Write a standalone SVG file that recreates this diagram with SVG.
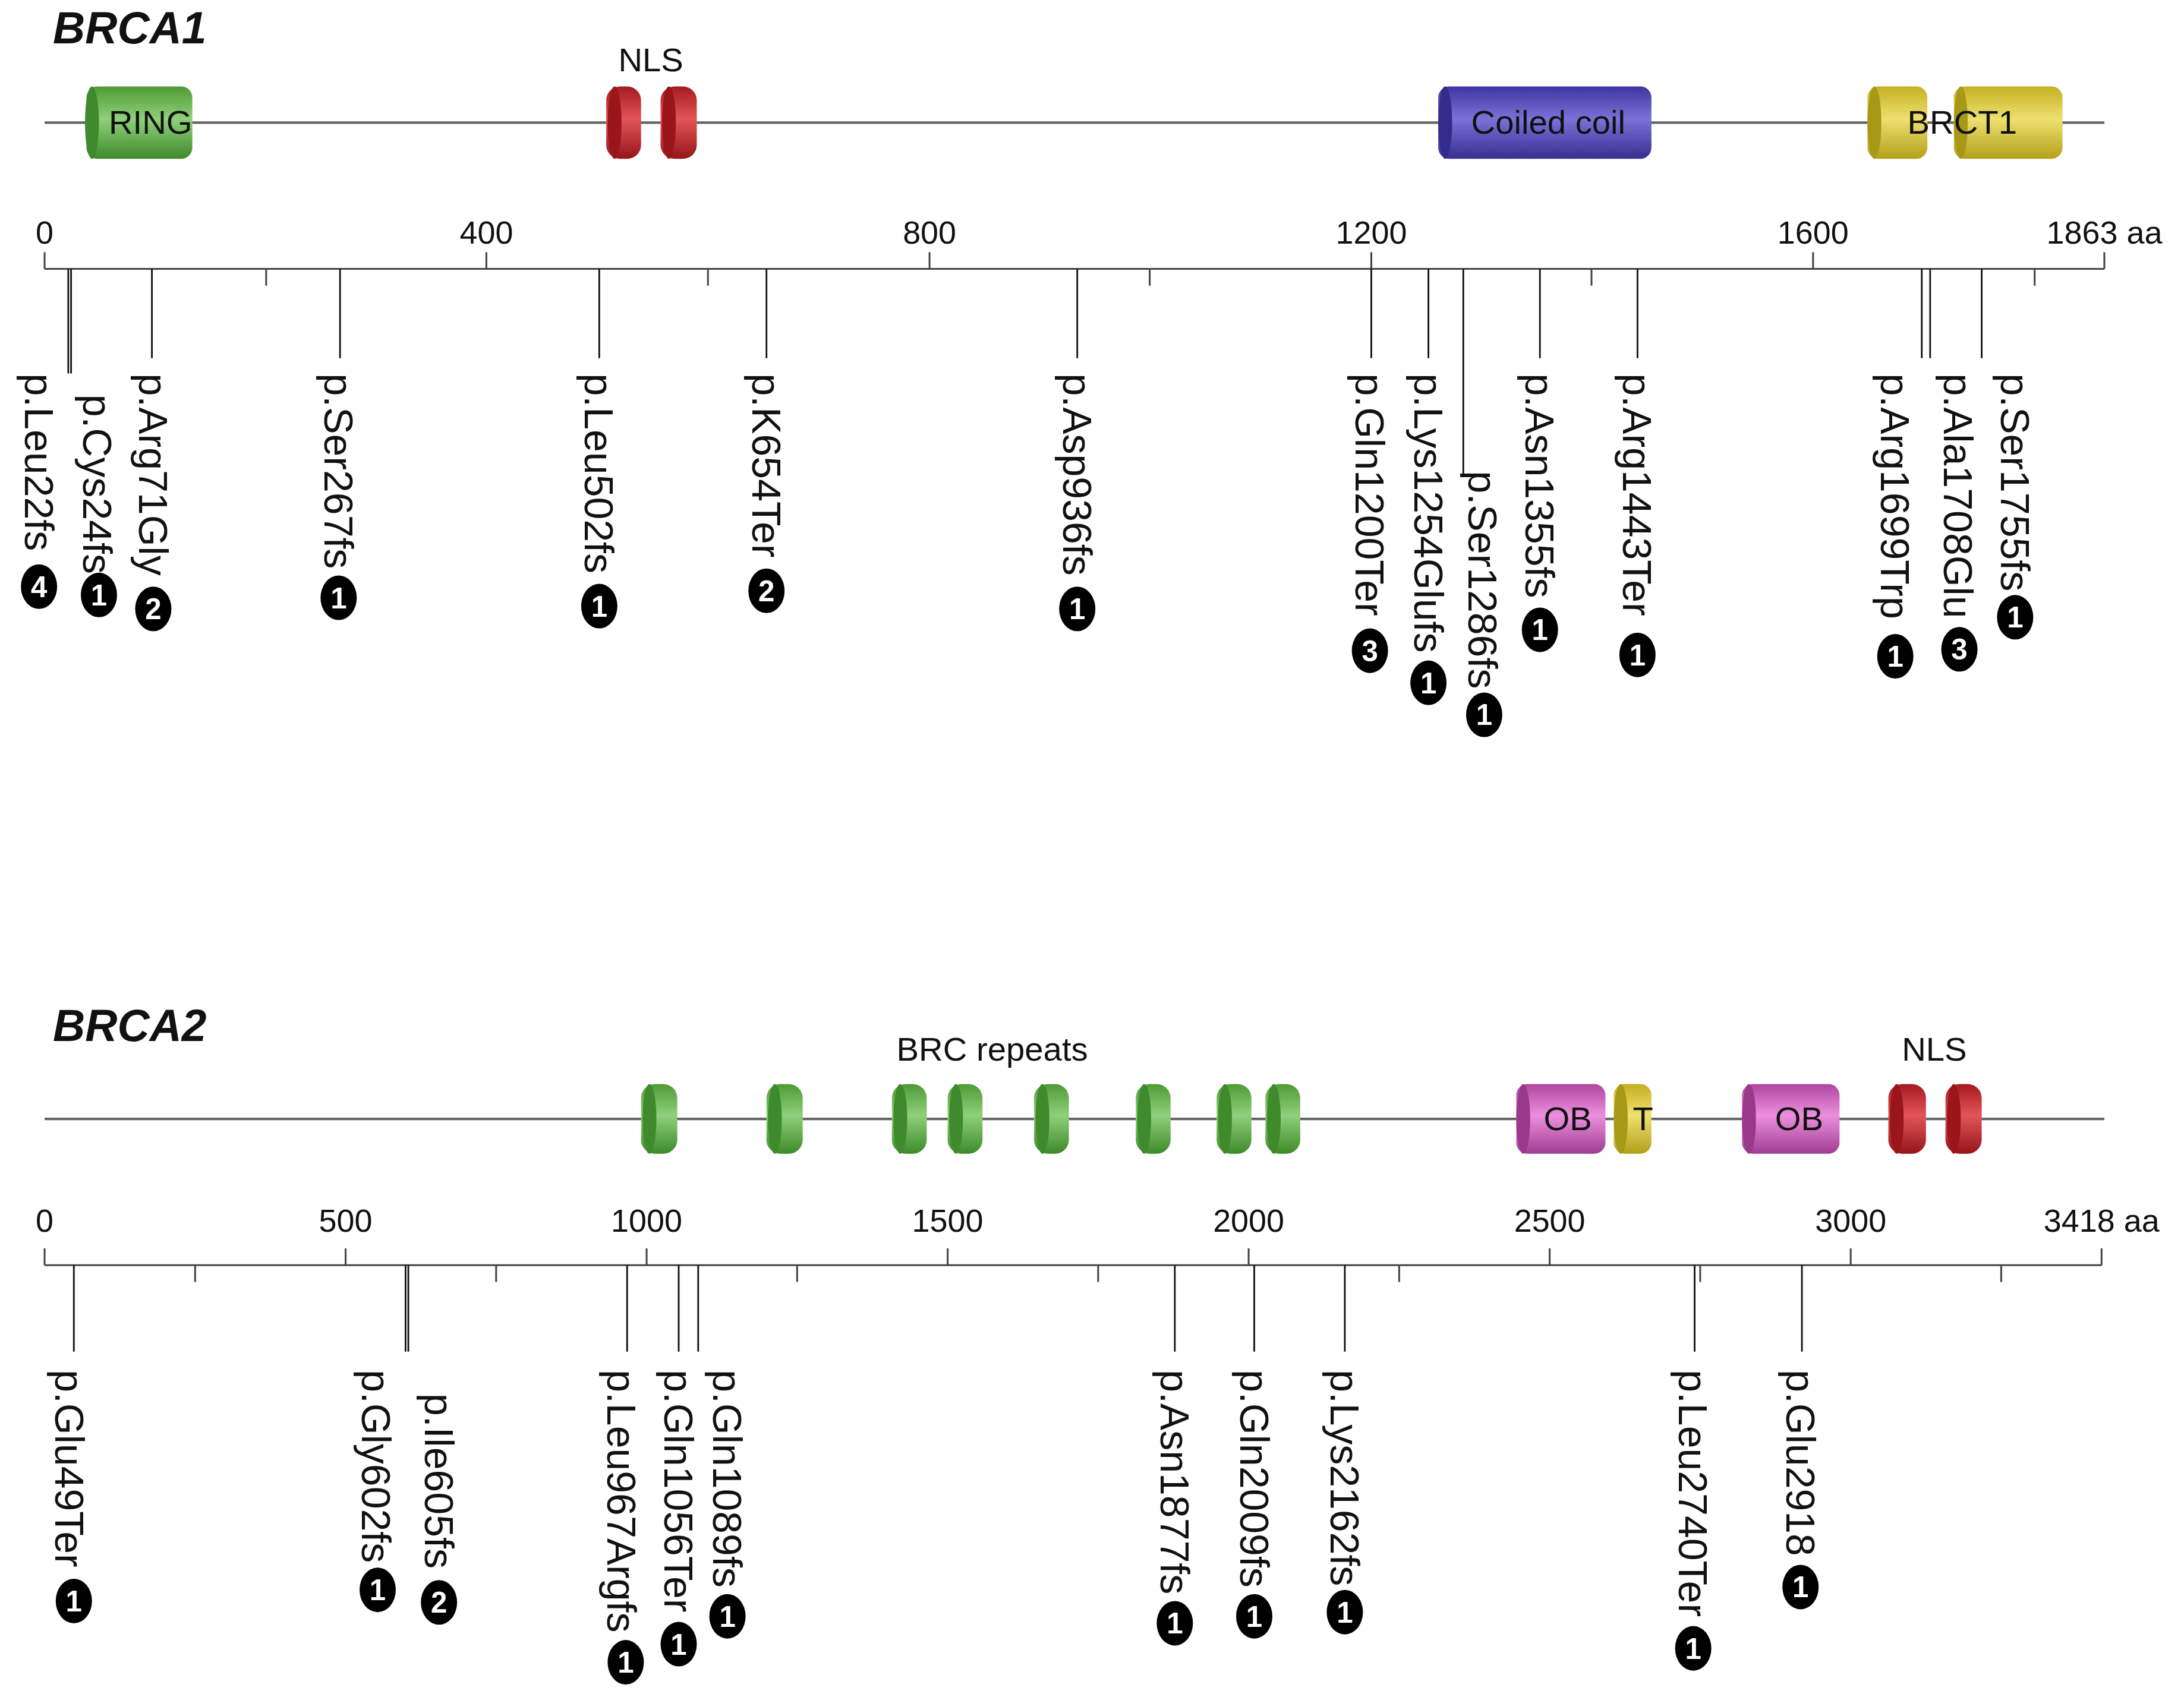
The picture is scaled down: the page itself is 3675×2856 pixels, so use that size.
<svg xmlns="http://www.w3.org/2000/svg" width="3675" height="2856" viewBox="0 0 3675 2856">
<style>
.t{font-family:"Liberation Sans",Arial,sans-serif;fill:#111}
.title{font-weight:bold;font-style:italic;font-size:32px}
.dl{font-size:24px;text-anchor:middle}
.tk{font-size:23px;text-anchor:middle}
.ml{font-size:29px;dominant-baseline:central}
.ax{stroke:#444;stroke-width:1.3;fill:none}
.pl{stroke:#666;stroke-width:1.8;fill:none}
.ml2{stroke:#111;stroke-width:1.2;fill:none}
.bd{fill:#000}
.bn{font-family:"Liberation Sans",Arial,sans-serif;font-weight:bold;font-size:21px;fill:#fff;text-anchor:middle;dominant-baseline:central}
</style>
<defs>
<linearGradient id="gG" x1="0" y1="0" x2="0" y2="1"><stop offset="0" stop-color="#4f9a35"/><stop offset="0.45" stop-color="#8fd07a"/><stop offset="1" stop-color="#3d8a2a"/></linearGradient>
<linearGradient id="gR" x1="0" y1="0" x2="0" y2="1"><stop offset="0" stop-color="#a51a1e"/><stop offset="0.45" stop-color="#e2555a"/><stop offset="1" stop-color="#951418"/></linearGradient>
<linearGradient id="gB" x1="0" y1="0" x2="0" y2="1"><stop offset="0" stop-color="#3d35a0"/><stop offset="0.45" stop-color="#7a72d8"/><stop offset="1" stop-color="#352e90"/></linearGradient>
<linearGradient id="gY" x1="0" y1="0" x2="0" y2="1"><stop offset="0" stop-color="#c4b020"/><stop offset="0.45" stop-color="#eee070"/><stop offset="1" stop-color="#b3a018"/></linearGradient>
<linearGradient id="gP" x1="0" y1="0" x2="0" y2="1"><stop offset="0" stop-color="#b0459e"/><stop offset="0.45" stop-color="#ec8fde"/><stop offset="1" stop-color="#a03c90"/></linearGradient>
</defs>
<rect width="3675" height="2856" fill="#fff"/>
<g transform="scale(2.345)">
<g id="brca1-title"><text class="t title" x="38" y="31">BRCA1</text></g>
<g id="brca1-protein"><line class="pl" x1="32" y1="88" x2="1510" y2="88"/></g>
<g id="brca1-ring"><rect x="62" y="62" width="76" height="52" rx="8" fill="url(#gG)"/><ellipse cx="66" cy="88" rx="5" ry="26" fill="#3e8a2c"/><text class="t dl" x="108" y="96">RING</text></g>
<g id="brca1-nls"><text class="t dl" x="467" y="51">NLS</text>
<rect x="435" y="62" width="25" height="52" rx="10" fill="url(#gR)"/><ellipse cx="441" cy="88" rx="5" ry="26" fill="#9a161a"/>
<rect x="474" y="62" width="26" height="52" rx="10" fill="url(#gR)"/><ellipse cx="480" cy="88" rx="5" ry="26" fill="#9a161a"/></g>
<g id="brca1-coiled"><rect x="1032" y="62" width="153" height="52" rx="8" fill="url(#gB)"/><ellipse cx="1037" cy="88" rx="5" ry="26" fill="#342c8c"/><text class="t dl" x="1111" y="96">Coiled coil</text></g>
<g id="brca1-brct"><rect x="1340" y="62" width="43" height="52" rx="8" fill="url(#gY)"/><ellipse cx="1345" cy="88" rx="5" ry="26" fill="#a89818"/>
<rect x="1402" y="62" width="78" height="52" rx="8" fill="url(#gY)"/><ellipse cx="1407" cy="88" rx="5" ry="26" fill="#a89818"/><text class="t dl" x="1408" y="96">BRCT1</text></g>
<g id="brca1-axis">
<line class="ax" x1="32" y1="193" x2="1510" y2="193"/>
<path class="ax" d="M32 181V193M349 181V193M667 181V193M984 181V193M1301 181V193M1510 181V193M191 193V205M508 193V205M825 193V205M1142 193V205M1460 193V205"/>
<text class="t tk" x="32" y="175">0</text><text class="t tk" x="349" y="175">400</text><text class="t tk" x="667" y="175">800</text><text class="t tk" x="984" y="175">1200</text><text class="t tk" x="1301" y="175">1600</text><text class="t tk" x="1510" y="175">1863 aa</text>
</g>
<g id="brca1-connectors">
<path class="ml2" d="M49 193V268M51 193V268M109 193V257M244 193V257M430 193V257M550 193V257M773 193V257M984 193V257M1025 193V257M1050 193V340M1105 193V257M1175 193V257M1379 193V257M1385 193V257M1422 193V257"/>
</g>
<g id="m-Leu22fs"><text class="t ml" transform="translate(28,268) rotate(90)">p.Leu22fs</text><ellipse class="bd" cx="28" cy="421" rx="13" ry="16"/><text class="bn" x="28" y="421">4</text></g>
<g id="m-Cys24fs"><text class="t ml" transform="translate(70,283) rotate(90)">p.Cys24fs</text><ellipse class="bd" cx="71" cy="427" rx="13" ry="16"/><text class="bn" x="71" y="427">1</text></g>
<g id="m-Arg71Gly"><text class="t ml" transform="translate(110,268) rotate(90)">p.Arg71Gly</text><ellipse class="bd" cx="110" cy="437" rx="13" ry="16"/><text class="bn" x="110" y="437">2</text></g>
<g id="m-Ser267fs"><text class="t ml" transform="translate(243,268) rotate(90)">p.Ser267fs</text><ellipse class="bd" cx="243" cy="429" rx="13" ry="16"/><text class="bn" x="243" y="429">1</text></g>
<g id="m-Leu502fs"><text class="t ml" transform="translate(430,268) rotate(90)">p.Leu502fs</text><ellipse class="bd" cx="430" cy="435" rx="13" ry="16"/><text class="bn" x="430" y="435">1</text></g>
<g id="m-K654Ter"><text class="t ml" transform="translate(550,268) rotate(90)">p.K654Ter</text><ellipse class="bd" cx="550" cy="424" rx="13" ry="16"/><text class="bn" x="550" y="424">2</text></g>
<g id="m-Asp936fs"><text class="t ml" transform="translate(773,268) rotate(90)">p.Asp936fs</text><ellipse class="bd" cx="773" cy="437" rx="13" ry="16"/><text class="bn" x="773" y="437">1</text></g>
<g id="m-Gln1200Ter"><text class="t ml" transform="translate(983,268) rotate(90)">p.Gln1200Ter</text><ellipse class="bd" cx="983" cy="467" rx="13" ry="16"/><text class="bn" x="983" y="467">3</text></g>
<g id="m-Lys1254Glufs"><text class="t ml" transform="translate(1025,268) rotate(90)">p.Lys1254Glufs</text><ellipse class="bd" cx="1025" cy="490" rx="13" ry="16"/><text class="bn" x="1025" y="490">1</text></g>
<g id="m-Ser1286fs"><text class="t ml" transform="translate(1064,338) rotate(90)">p.Ser1286fs</text><ellipse class="bd" cx="1065" cy="513" rx="13" ry="16"/><text class="bn" x="1065" y="513">1</text></g>
<g id="m-Asn1355fs"><text class="t ml" transform="translate(1105,268) rotate(90)">p.Asn1355fs</text><ellipse class="bd" cx="1105" cy="452" rx="13" ry="16"/><text class="bn" x="1105" y="452">1</text></g>
<g id="m-Arg1443Ter"><text class="t ml" transform="translate(1175,268) rotate(90)">p.Arg1443Ter</text><ellipse class="bd" cx="1175" cy="470" rx="13" ry="16"/><text class="bn" x="1175" y="470">1</text></g>
<g id="m-Arg1699Trp"><text class="t ml" transform="translate(1360,268) rotate(90)">p.Arg1699Trp</text><ellipse class="bd" cx="1360" cy="471" rx="13" ry="16"/><text class="bn" x="1360" y="471">1</text></g>
<g id="m-Ala1708Glu"><text class="t ml" transform="translate(1405,268) rotate(90)">p.Ala1708Glu</text><ellipse class="bd" cx="1406" cy="466" rx="13" ry="16"/><text class="bn" x="1406" y="466">3</text></g>
<g id="m-Ser1755fs"><text class="t ml" transform="translate(1446,268) rotate(90)">p.Ser1755fs</text><ellipse class="bd" cx="1446" cy="443" rx="13" ry="16"/><text class="bn" x="1446" y="443">1</text></g>

<g id="brca2-title"><text class="t title" x="38" y="747">BRCA2</text></g>
<g id="brca2-protein"><line class="pl" x1="32" y1="803" x2="1510" y2="803"/></g>
<g id="brca2-brc"><text class="t dl" x="712" y="761">BRC repeats</text>
<rect x="460" y="778" width="26" height="50" rx="10" fill="url(#gG)"/><ellipse cx="466" cy="803" rx="5" ry="25" fill="#3e8a2c"/>
<rect x="550" y="778" width="26" height="50" rx="10" fill="url(#gG)"/><ellipse cx="556" cy="803" rx="5" ry="25" fill="#3e8a2c"/>
<rect x="640" y="778" width="25" height="50" rx="10" fill="url(#gG)"/><ellipse cx="646" cy="803" rx="5" ry="25" fill="#3e8a2c"/>
<rect x="680" y="778" width="25" height="50" rx="10" fill="url(#gG)"/><ellipse cx="686" cy="803" rx="5" ry="25" fill="#3e8a2c"/>
<rect x="742" y="778" width="25" height="50" rx="10" fill="url(#gG)"/><ellipse cx="748" cy="803" rx="5" ry="25" fill="#3e8a2c"/>
<rect x="815" y="778" width="25" height="50" rx="10" fill="url(#gG)"/><ellipse cx="821" cy="803" rx="5" ry="25" fill="#3e8a2c"/>
<rect x="873" y="778" width="25" height="50" rx="10" fill="url(#gG)"/><ellipse cx="879" cy="803" rx="5" ry="25" fill="#3e8a2c"/>
<rect x="908" y="778" width="25" height="50" rx="10" fill="url(#gG)"/><ellipse cx="914" cy="803" rx="5" ry="25" fill="#3e8a2c"/></g>
<g id="brca2-ob1"><rect x="1088" y="778" width="64" height="50" rx="8" fill="url(#gP)"/><ellipse cx="1093" cy="803" rx="5" ry="25" fill="#9a388a"/><text class="t dl" x="1125" y="811">OB</text></g>
<g id="brca2-t"><rect x="1158" y="778" width="27" height="50" rx="8" fill="url(#gY)"/><ellipse cx="1163" cy="803" rx="5" ry="25" fill="#a89818"/><text class="t dl" x="1179" y="811">T</text></g>
<g id="brca2-ob2"><rect x="1250" y="778" width="70" height="50" rx="8" fill="url(#gP)"/><ellipse cx="1255" cy="803" rx="5" ry="25" fill="#9a388a"/><text class="t dl" x="1291" y="811">OB</text></g>
<g id="brca2-nls"><text class="t dl" x="1388" y="761">NLS</text>
<rect x="1355" y="778" width="27" height="50" rx="10" fill="url(#gR)"/><ellipse cx="1361" cy="803" rx="5" ry="25" fill="#9a161a"/>
<rect x="1396" y="778" width="26" height="50" rx="10" fill="url(#gR)"/><ellipse cx="1402" cy="803" rx="5" ry="25" fill="#9a161a"/></g>
<g id="brca2-axis">
<line class="ax" x1="32" y1="908" x2="1508" y2="908"/>
<path class="ax" d="M32 896V908M248 896V908M464 896V908M680 896V908M896 896V908M1112 896V908M1328 896V908M1508 896V908M140 908V920M356 908V920M572 908V920M788 908V920M1004 908V920M1220 908V920M1436 908V920"/>
<text class="t tk" x="32" y="884">0</text><text class="t tk" x="248" y="884">500</text><text class="t tk" x="464" y="884">1000</text><text class="t tk" x="680" y="884">1500</text><text class="t tk" x="896" y="884">2000</text><text class="t tk" x="1112" y="884">2500</text><text class="t tk" x="1328" y="884">3000</text><text class="t tk" x="1508" y="884">3418 aa</text>
</g>
<g id="brca2-connectors">
<path class="ml2" d="M53 908V970M291 908V970M293 908V970M450 908V970M487 908V970M501 908V970M843 908V970M900 908V970M965 908V970M1216 908V970M1293 908V970"/>
</g>
<g id="m-Glu49Ter"><text class="t ml" transform="translate(50,983) rotate(90)">p.Glu49Ter</text><ellipse class="bd" cx="53" cy="1149" rx="13" ry="16"/><text class="bn" x="53" y="1149">1</text></g>
<g id="m-Gly602fs"><text class="t ml" transform="translate(270,983) rotate(90)">p.Gly602fs</text><ellipse class="bd" cx="271" cy="1141" rx="13" ry="16"/><text class="bn" x="271" y="1141">1</text></g>
<g id="m-Ile605fs"><text class="t ml" transform="translate(315,1000) rotate(90)">p.Ile605fs</text><ellipse class="bd" cx="315" cy="1150" rx="13" ry="16"/><text class="bn" x="315" y="1150">2</text></g>
<g id="m-Leu967Argfs"><text class="t ml" transform="translate(446,983) rotate(90)">p.Leu967Argfs</text><ellipse class="bd" cx="449" cy="1193" rx="13" ry="16"/><text class="bn" x="449" y="1193">1</text></g>
<g id="m-Gln1056Ter"><text class="t ml" transform="translate(487,983) rotate(90)">p.Gln1056Ter</text><ellipse class="bd" cx="487" cy="1180" rx="13" ry="16"/><text class="bn" x="487" y="1180">1</text></g>
<g id="m-Gln1089fs"><text class="t ml" transform="translate(522,983) rotate(90)">p.Gln1089fs</text><ellipse class="bd" cx="522" cy="1160" rx="13" ry="16"/><text class="bn" x="522" y="1160">1</text></g>
<g id="m-Asn1877fs"><text class="t ml" transform="translate(843,983) rotate(90)">p.Asn1877fs</text><ellipse class="bd" cx="843" cy="1165" rx="13" ry="16"/><text class="bn" x="843" y="1165">1</text></g>
<g id="m-Gln2009fs"><text class="t ml" transform="translate(900,983) rotate(90)">p.Gln2009fs</text><ellipse class="bd" cx="900" cy="1160" rx="13" ry="16"/><text class="bn" x="900" y="1160">1</text></g>
<g id="m-Lys2162fs"><text class="t ml" transform="translate(965,983) rotate(90)">p.Lys2162fs</text><ellipse class="bd" cx="965" cy="1157" rx="13" ry="16"/><text class="bn" x="965" y="1157">1</text></g>
<g id="m-Leu2740Ter"><text class="t ml" transform="translate(1215,983) rotate(90)">p.Leu2740Ter</text><ellipse class="bd" cx="1215" cy="1183" rx="13" ry="16"/><text class="bn" x="1215" y="1183">1</text></g>
<g id="m-Glu2918"><text class="t ml" transform="translate(1292,983) rotate(90)">p.Glu2918</text><ellipse class="bd" cx="1292" cy="1139" rx="13" ry="16"/><text class="bn" x="1292" y="1139">1</text></g>
</g>
</svg>
